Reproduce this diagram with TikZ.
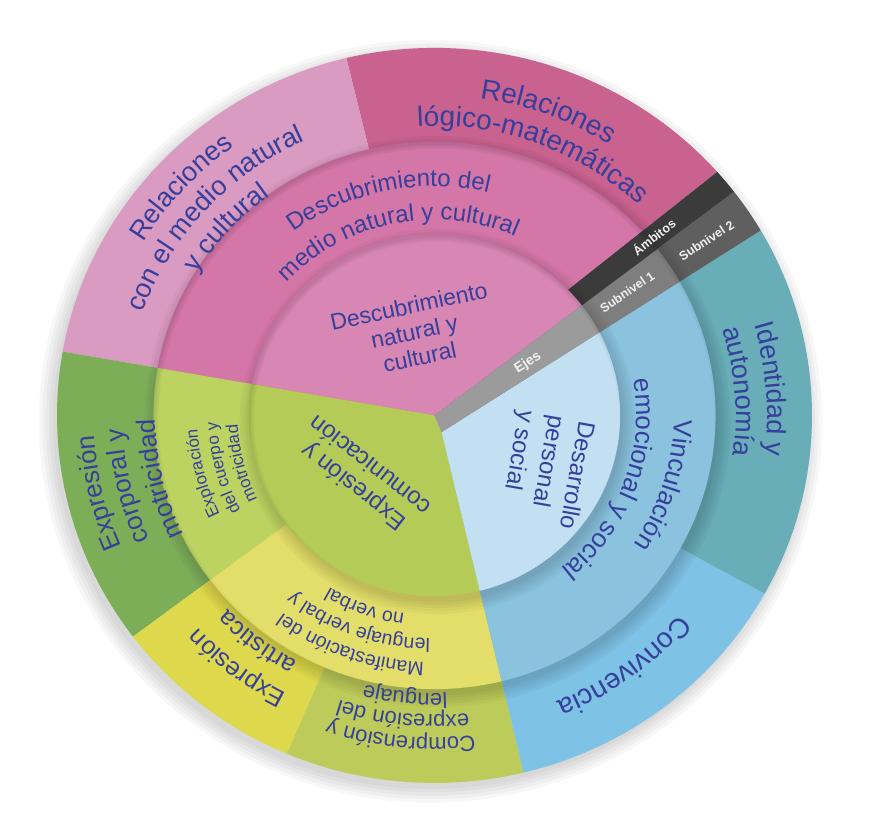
\documentclass[tikz,border=0pt]{standalone}
\usepackage{fontspec}
\setmainfont{Liberation Sans}
\usetikzlibrary{calc, decorations.text}
\definecolor{vtext}{HTML}{363F9C}
\definecolor{pinkdark}{HTML}{C9628F}
\definecolor{pinklight}{HTML}{D99BC2}
\definecolor{pinkmid}{HTML}{D476A7}
\definecolor{pinkin}{HTML}{D886B4}
\definecolor{greendark}{HTML}{7CAE58}
\definecolor{greenmid}{HTML}{BCD362}
\definecolor{greenin}{HTML}{B5CB58}
\definecolor{yellowmid}{HTML}{E3DE6A}
\definecolor{yellowout}{HTML}{DDD84C}
\definecolor{lgreenout}{HTML}{BDCB5A}
\definecolor{tealout}{HTML}{68ADB7}
\definecolor{blueout}{HTML}{7EC2E5}
\definecolor{bluemid}{HTML}{8BC3DF}
\definecolor{bluein}{HTML}{C3E0F2}
\definecolor{ejesgray}{HTML}{9B9B9B}
\definecolor{subone}{HTML}{7E7E7E}
\definecolor{subtwo}{HTML}{5F5F5F}
\definecolor{ambgray}{HTML}{3B3B3B}
\tikzset{
  inlabel/.style={text=vtext, align=center, inner sep=0pt},
  striplabel/.style={text=white!94!black, inner sep=0pt, font=\bfseries\fontsize{12.5}{12.5}\selectfont},
  shadowdisc/.style={black, opacity=0.03},
  rimshade/.style={black, opacity=0.04}
}
\newcommand{\arclabel}[4]{%
  \path[decorate, decoration={text along path, text align=center,
      text={|\fontsize{#3}{#3}\selectfont\color{vtext}|#4}}]
    (#2+80:#1) arc[start angle=#2+80, end angle=#2-80, radius=#1];}

\begin{document}
\begin{tikzpicture}[x=1.0148pt, y=0.988pt]
  \useasboundingbox (-428.2,-425.6) rectangle (435.1,420.5);
  \fill[white] (-428.2,-425.6) rectangle (435.1,420.5);
  \coordinate (O) at (0,0);
  \coordinate (P) at (7,-17);
  \coordinate (Q) at (-9.8,12.1);
  \coordinate (X) at (-4.0,16.8);
  \coordinate (Z) at (17.9,-9.9);
  \coordinate (W) at (3.5,-1.9);
  \coordinate (V) at (1.9,4.6);
  \coordinate (U) at (2.6,1.9);
  \coordinate (Plow) at ($(P)+(33:700)$);
  \coordinate (Pgb) at ($(P)+(-76.8:700)$);
  \coordinate (Qamb) at ($(Q)+(39.1:700)$);

  \foreach \d in {0,3.5,7,10.5,14} \fill[shadowdisc] (-4,-6) circle (372+\d);

  % outer ring: ambitos
  \begin{scope}
    \clip (O) circle (372);
    \fill[pinkdark] (X) -- (Qamb) -- (103.5:700) -- cycle;
    \fill[pinklight] (O) -- (103.5:700) -- (170:700) -- cycle;
    \fill[greendark] (O) -- (170:700) -- (217:700) -- cycle;
    \fill[yellowout] (O) -- (217:700) -- (247:700) -- cycle;
    \fill[lgreenout] (V) -- (247:700) -- (Pgb) -- cycle;
    \fill[blueout] (W) -- (Pgb) -- (-29:700) -- cycle;
    \fill[tealout] (Z) -- (-29:700) -- (Plow) -- cycle;
    \fill[subtwo] (O) -- (37.5:700) -- (Plow) -- (P) -- cycle;
    \fill[ambgray] (O) -- (37.5:700) -- (Qamb) -- (Q) -- cycle;
  \end{scope}
  \foreach \d in {0,3,6,9,12} \fill[shadowdisc] (3,-6) circle (277+\d);

  % middle ring: subnivel 1
  \begin{scope}
    \clip (O) circle (277);
    \fill[pinkmid] (Q) -- (Qamb) -- (100:700) -- (170:700) -- (O) -- cycle;
    \fill[greenmid] (O) -- (170:700) -- (217:700) -- cycle;
    \fill[yellowmid] (U) -- (217:700) -- (Pgb) -- cycle;
    \fill[bluemid] (P) -- (Pgb) -- (-20:700) -- (Plow) -- cycle;
    \fill[subone] (O) -- (37.5:700) -- (Plow) -- (P) -- cycle;
    \fill[ambgray] (O) -- (37.5:700) -- (Qamb) -- (Q) -- cycle;
    \foreach \w in {4,8,12} \draw[rimshade, line width=\w] (2,-4) circle (280);
  \end{scope}
  \foreach \d in {0,3,6,9,12} \fill[shadowdisc] (3,-6) circle (183+\d);

  % inner disc: ejes
  \begin{scope}
    \clip (O) circle (183);
    \fill[pinkin] (O) -- (37.5:700) -- (100:700) -- (170:700) -- cycle;
    \fill[greenin] (O) -- (170:700) -- (225:700) -- (Pgb) -- (P) -- cycle;
    \fill[bluein] (P) -- (Pgb) -- (-20:700) -- (Plow) -- cycle;
    \fill[ejesgray] (O) -- (37.5:700) -- (Plow) -- (P) -- cycle;
    \foreach \w in {4,8,12} \draw[rimshade, line width=\w] (2,-4) circle (186);
  \end{scope}

  \arclabel{324}{69.5}{28}{Relaciones}
  \arclabel{293}{69.5}{28}{lógico-matemáticas}
  \arclabel{336}{138}{27}{Relaciones}
  \arclabel{306}{138}{27}{con el medio natural}
  \arclabel{275}{138}{27}{y cultural}
  \arclabel{336}{193}{26}{Expresión}
  \arclabel{307}{193}{26}{corporal y}
  \arclabel{275}{193}{26}{motricidad}
  \arclabel{317}{232}{25}{Expresión}
  \arclabel{283}{232}{25}{artística}
  \arclabel{326}{264}{22}{Comprensión y}
  \arclabel{303}{264}{22}{expresión del}
  \arclabel{281}{264}{22}{lenguaje}
  \arclabel{314}{-53}{28}{Convivencia}
  \arclabel{328}{4.5}{27}{Identidad y}
  \arclabel{297}{4.5}{27}{autonomía}
  \arclabel{232}{102}{24}{Descubrimiento del}
  \arclabel{198}{102}{24}{medio natural y cultural}
  \arclabel{234}{194}{17}{Exploración}
  \arclabel{214}{194}{17}{del cuerpo y}
  \arclabel{194}{194}{17}{motricidad}
  \arclabel{250}{250}{19.5}{Manifestación del}
  \arclabel{226}{250}{19.5}{lenguaje verbal y}
  \arclabel{203}{250}{19.5}{no verbal}
  \arclabel{236}{-17}{26}{Vinculación}
  \arclabel{199}{-20}{26}{emocional y social}

  \node[inlabel, font=\fontsize{23}{26}\selectfont, rotate=12] (natural) at (-20,85) {Descubrimiento\\natural y\\cultural};
  \node[inlabel, font=\fontsize{24}{27}\selectfont, rotate=142] (expresion) at (-72,-62) {Expresión y\\comunicación};
  \node[inlabel, align=left, font=\fontsize{24}{30}\selectfont, rotate=-100] (personal) at (110,-55) {Desarrollo\\personal\\y social};

  \node[striplabel, font=\bfseries\fontsize{14}{14}\selectfont, rotate=33] (ejes) at (92,53) {Ejes};
  \node[striplabel, rotate=34] (subuno) at (190,125) {Subnivel 1};
  \node[striplabel, rotate=33] (subdos) at (268,177) {Subnivel 2};
  \node[striplabel, rotate=38] (ambitos) at (216,181) {Ámbitos};
\end{tikzpicture}
\end{document}
